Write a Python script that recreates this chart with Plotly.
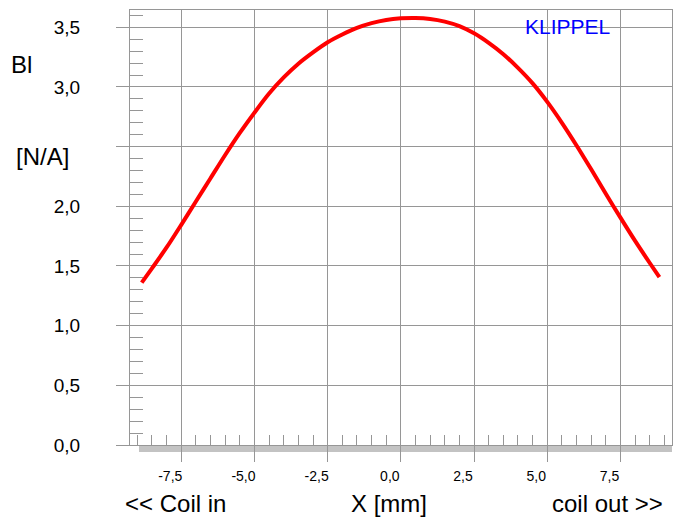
import plotly.graph_objects as go

# Bl(x) curve
x_mm = [-8.85, -8.5, -8.0, -7.5, -7.0, -6.5, -6.0, -5.5, -5.0, -4.5, -4.0, -3.5,
        -3.0, -2.5, -2.0, -1.5, -1.0, -0.5, 0.0, 0.5, 1.0, 1.5, 2.0, 2.5, 3.0,
        3.5, 4.0, 4.5, 5.0, 5.5, 6.0, 6.5, 7.0, 7.5, 8.0, 8.5, 8.83]
bl = [1.36, 1.48, 1.655, 1.845, 2.04, 2.235, 2.43, 2.615, 2.785, 2.945, 3.08, 3.195,
      3.29, 3.375, 3.44, 3.495, 3.535, 3.562, 3.575, 3.578, 3.57, 3.548, 3.51, 3.45, 3.37,
      3.275, 3.16, 3.03, 2.875, 2.70, 2.51, 2.31, 2.105, 1.905, 1.71, 1.525, 1.406]

x_ticks = [-7.5, -5.0, -2.5, 0.0, 2.5, 5.0, 7.5]
x_tick_text = ["-7,5", "-5,0", "-2,5", "0,0", "2,5", "5,0", "7,5"]
y_ticks = [0.0, 0.5, 1.0, 1.5, 2.0, 2.5, 3.0, 3.5]
y_tick_text = ["0,0", "0,5", "1,0", "1,5", "2,0", "", "3,0", "3,5"]

W, H = 673, 522
L, R, T, B = 130, 1, 10, 77
pw, ph = W - L - R, H - T - B

def px(xp):
    return (xp - L) / pw

def py(yp):
    return (H - B - yp) / ph

FONT = "Liberation Sans"
GRID = "rgb(150,150,150)"

fig = go.Figure()
fig.add_trace(go.Scatter(x=x_mm, y=bl, mode="lines",
                         line=dict(color="#ff0000", width=4, shape="spline", smoothing=0.8),
                         showlegend=False, hoverinfo="skip"))

fig.update_layout(
    width=W, height=H,
    margin=dict(l=L, r=R, t=T, b=B, pad=0, autoexpand=False),
    paper_bgcolor="white", plot_bgcolor="white",
    font=dict(family=FONT, color="black"),
    xaxis=dict(range=[-9.25, 9.26], tickmode="array", tickvals=x_ticks, ticktext=x_tick_text,
               automargin=False,
               ticks="outside", ticklen=16, tickcolor=GRID, tickwidth=1,
               showgrid=True, gridcolor=GRID, gridwidth=1,
               showline=True, linecolor=GRID, linewidth=1, mirror=True,
               zeroline=False, tickfont=dict(size=14, family=FONT),
               ticklabelshift=-11, ticklabelstandoff=2,
               minor=dict(ticks="inside", dtick=0.5, tick0=0, ticklen=10,
                          tickcolor=GRID, tickwidth=1, showgrid=False)),
    yaxis=dict(range=[0, 3.645], tickmode="array", tickvals=y_ticks, ticktext=y_tick_text,
               automargin=False,
               ticks="outside", ticklen=13, tickcolor=GRID, tickwidth=1,
               showgrid=True, gridcolor=GRID, gridwidth=1,
               showline=True, linecolor=GRID, linewidth=1, mirror=True,
               zeroline=False, tickfont=dict(size=19, family=FONT),
               ticklabelstandoff=32,
               minor=dict(ticks="inside", dtick=0.1, tick0=0, ticklen=13,
                          tickcolor=GRID, tickwidth=1, showgrid=False)),
    shapes=[dict(type="rect", xref="paper", yref="paper",
                 x0=px(139), x1=1.0, y0=py(452), y1=py(446),
                 fillcolor="rgb(195,195,195)", line=dict(width=0), layer="below")],
)

def ann(text, x, y, xanchor, size, color="black"):
    fig.add_annotation(text=text, xref="paper", yref="paper", x=x, y=y,
                       xanchor=xanchor, yanchor="middle", showarrow=False,
                       font=dict(size=size, family=FONT, color=color))

ann("Bl", px(9), py(65), "left", 24)
ann("[N/A]", px(14), py(156), "left", 24)
ann("<< Coil in", px(123), py(504), "left", 24)
ann("X [mm]", px(389), py(504), "center", 24)
ann("coil out >>", px(665), py(504), "right", 24)
ann("KLIPPEL", px(523), py(26), "left", 21, color="#0000ff")

fig.write_html("out.html", config={"displayModeBar": False},
               post_script="document.body.style.margin='0px';")
